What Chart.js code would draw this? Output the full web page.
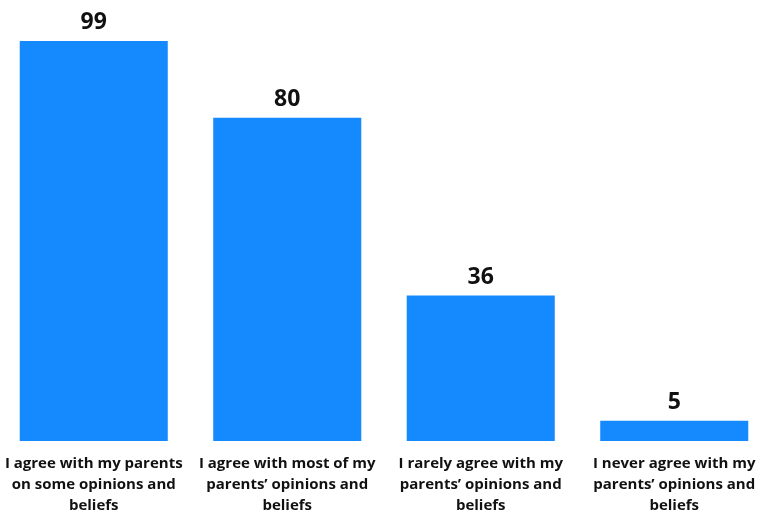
<!DOCTYPE html>
<html>
<head>
<meta charset="utf-8">
<script src="https://cdn.jsdelivr.net/npm/chart.js@4"></script>
<style>
 html,body{margin:0;padding:0;background:#fff;overflow:hidden;}
 #wrap{position:absolute;left:-3px;top:0;width:774px;height:513px;}
</style>
</head>
<body>
<div id="wrap"><canvas id="barChart"></canvas></div>
<script>
// DATA
const categories=[
 ["I agree with my parents","on some opinions and","beliefs"],
 ["I agree with most of my","parents’ opinions and","beliefs"],
 ["I rarely agree with my","parents’ opinions and","beliefs"],
 ["I never agree with my","parents’ opinions and","beliefs"]
];
const counts=[99,80,36,5];

// value labels above each bar
const valueLabels={
 id:"valueLabels",
 afterDatasetsDraw(chart){
   const ctx=chart.ctx;
   const meta=chart.getDatasetMeta(0);
   ctx.save();
   ctx.font="bold 23px 'Open Sans', sans-serif";
   ctx.fillStyle="#111";
   ctx.textAlign="center";
   ctx.textBaseline="bottom";
   meta.data.forEach((bar,i)=>{
     ctx.fillText(chart.data.datasets[0].data[i],bar.x,bar.y-7);
   });
   ctx.restore();
 }
};

new Chart(document.getElementById("barChart"),{
 type:'bar',
 data:{
   labels:categories,
   datasets:[{data:counts,backgroundColor:"#1589fe",barPercentage:0.765,categoryPercentage:1}]
 },
 options:{
   responsive:true,
   maintainAspectRatio:false,
   animation:false,
   layout:{padding:{top:41,left:0,right:0,bottom:-7}},
   plugins:{legend:{display:false},tooltip:{enabled:false}},
   scales:{
     x:{
       grid:{display:false},
       border:{display:false},
       ticks:{color:"#111",maxRotation:0,autoSkip:false,padding:4,
         font:{family:"'Open Sans', sans-serif",size:15,weight:"bold",lineHeight:1.4}}
     },
     y:{display:false,min:0,max:99}
   }
 },
 plugins:[valueLabels]
});
</script>
</body>
</html>
